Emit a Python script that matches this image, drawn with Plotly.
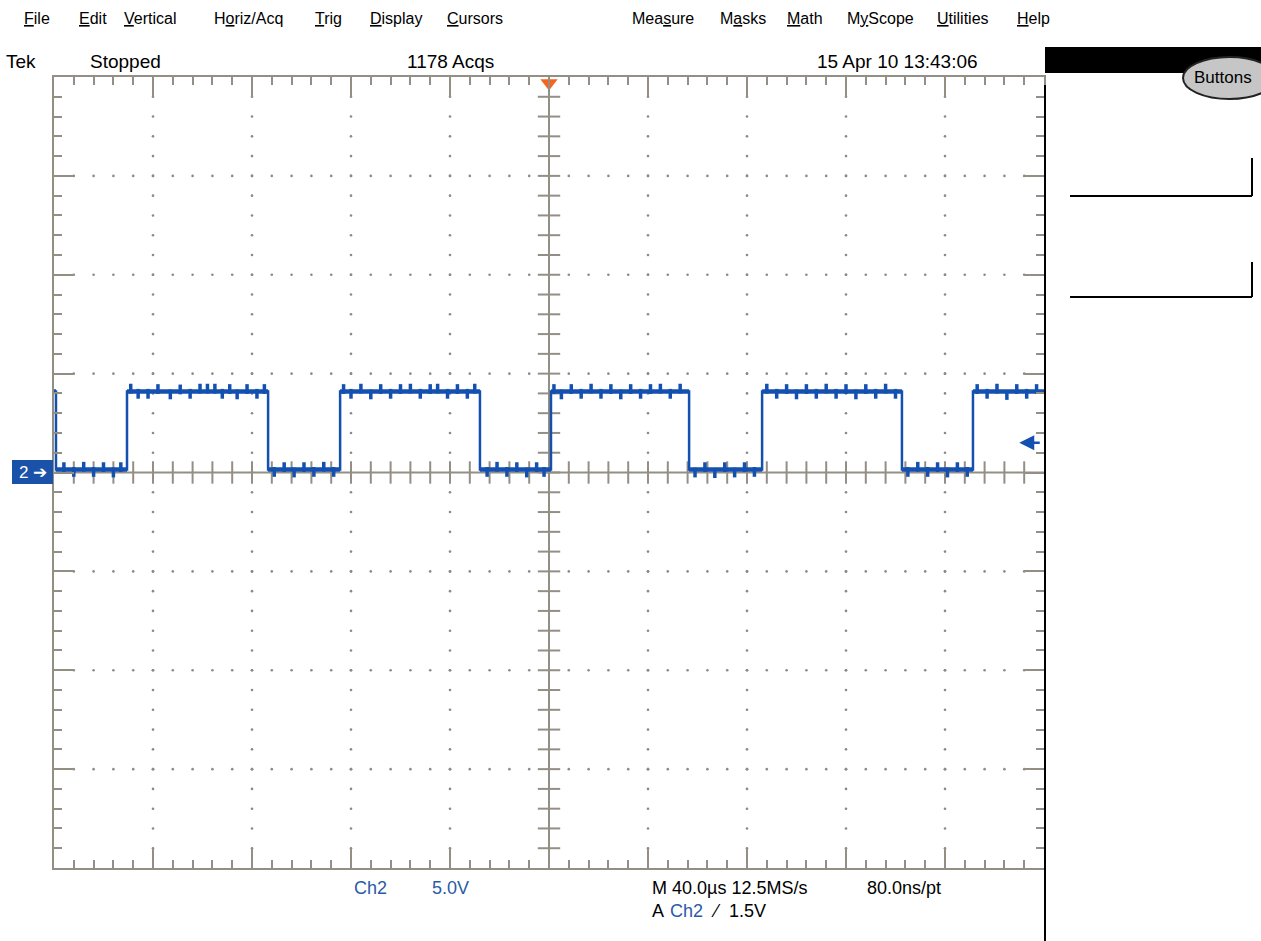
import plotly.graph_objects as go

W, H = 1261, 941

# ---------------- data ----------------
# time axis: 40 us/div, 10 divisions (trigger at 0); vertical: 5 V/div, 8 divisions
edge_times_us = [-199.2, -170.5, -113.5, -84.4, -27.9, 0.8, 56.6, 86.1, 142.6, 171.3]
start_high = True
high_level_v = 4.1
low_level_v = 0.15

glitch_t = [-169, -166, -162, -158, -153, -149, -145, -141, -138, -135, -132, -129, -126, -122, -118, -115,
            -83, -80, -76, -72, -68, -64, -60, -56, -52, -48, -45, -41, -37, -33, -30,
            2, 5, 9, 13, 17, 21, 25, 29, 33, 37, 41, 45, 49, 53,
            88, 92, 96, 100, 104, 108, 112, 116, 120, 124, 128, 132, 136, 140,
            173, 177, 181, 185, 189, 193, 197,
            -196, -192, -188, -184, -180, -176, -173,
            -111, -107, -103, -99, -95, -91, -87,
            -25, -21, -17, -13, -9, -5, -2,
            59, 63, 67, 71, 75, 79, 83,
            145, 149, 153, 157, 161, 165, 169]
glitch_dv = [0.14, -0.12, -0.12, 0.12, -0.15, 0.1, -0.12, 0.14, 0.14, 0.14, -0.12, 0.12, -0.15, 0.12, -0.12, 0.12,
             0.12, -0.12, 0.14, -0.15, 0.12, -0.12, 0.12, 0.14, -0.12, 0.12, 0.14, -0.12, 0.12, -0.12, 0.14,
             0.12, -0.15, 0.12, -0.12, 0.14, -0.12, 0.12, -0.15, 0.12, -0.12, 0.12, 0.14, -0.12, 0.14,
             0.14, -0.12, 0.12, -0.15, 0.12, -0.12, 0.14, -0.12, 0.12, -0.15, 0.12, -0.12, 0.14, -0.12,
             0.12, -0.12, 0.14, -0.18, 0.12, -0.12, 0.12,
             0.12, -0.12, 0.14, -0.12, 0.12, -0.15, 0.12,
             -0.12, 0.12, -0.15, 0.12, -0.12, 0.14, -0.12,
             -0.12, 0.14, -0.12, 0.12, -0.15, 0.12, -0.12,
             -0.15, 0.12, -0.18, 0.12, -0.15, 0.12, -0.12,
             -0.12, 0.14, -0.12, 0.12, -0.15, 0.12, -0.12]

trigger_level_v = 1.5

menu_items = [("<span style='text-decoration:underline'>F</span>ile", 22),
              ("<span style='text-decoration:underline'>E</span>dit", 77),
              ("<span style='text-decoration:underline'>V</span>ertical", 122),
              ("H<span style='text-decoration:underline'>o</span>riz/Acq", 212),
              ("<span style='text-decoration:underline'>T</span>rig", 313),
              ("<span style='text-decoration:underline'>D</span>isplay", 368),
              ("<span style='text-decoration:underline'>C</span>ursors", 445),
              ("Mea<span style='text-decoration:underline'>s</span>ure", 630),
              ("M<span style='text-decoration:underline'>a</span>sks", 718),
              ("<span style='text-decoration:underline'>M</span>ath", 785),
              ("M<span style='text-decoration:underline'>y</span>Scope", 845),
              ("<span style='text-decoration:underline'>U</span>tilities", 935),
              ("<span style='text-decoration:underline'>H</span>elp", 1015)]

status_items = [("Tek", 4), ("Stopped", 88), ("1178 Acqs", 405), ("15 Apr 10 13:43:06", 815)]

# ---------------- helpers ----------------
def px(x):
    return x / W

def py(y):
    return 1 - y / H

X0, X1, Y0, Y1 = 54, 1044, 77, 868
GRID = "#948f85"
BLUE = "#1450b0"
TEXTBLUE = "#2a5aa8"
FONT = "Liberation Sans, Arial, sans-serif"

# waveform steps
xs, ys = [-200], []
level = high_level_v if start_high else low_level_v
ys.append(level)
for e in edge_times_us:
    other = low_level_v if level == high_level_v else high_level_v
    xs += [e, e]
    ys += [level, other]
    level = other
xs.append(200)
ys.append(level)

# plateau segments (horizontal parts only, drawn thicker like the noisy trace)
bounds = [-200] + edge_times_us + [200]
pxs, pys = [], []
lv = high_level_v if start_high else low_level_v
for a, b in zip(bounds[:-1], bounds[1:]):
    pxs += [a, b, None]
    pys += [lv, lv, None]
    lv = low_level_v if lv == high_level_v else high_level_v

def level_at(t):
    lv = high_level_v if start_high else low_level_v
    for e in edge_times_us:
        if t >= e:
            lv = low_level_v if lv == high_level_v else high_level_v
    return lv

gy = [level_at(t) + dv for t, dv in zip(glitch_t, glitch_dv)]

fig = go.Figure()

# grid dots
gx_d, gy_d = [], []
for xv in [-160, -120, -80, -40, 40, 80, 120, 160]:
    for k in range(-19, 20):
        gx_d.append(xv); gy_d.append(k)
for yv in [-15, -10, -5, 5, 10, 15]:
    for k in range(-24, 25):
        gx_d.append(k * 8); gy_d.append(yv)
fig.add_trace(go.Scatter(x=gx_d, y=gy_d, mode="markers",
                         marker=dict(size=2.6, color="#8a8a8a", line=dict(width=0)),
                         hoverinfo="skip"))

# center cross ticks
fig.add_trace(go.Scatter(x=[k * 8 for k in range(-24, 25)], y=[0] * 49, mode="markers",
                         marker=dict(symbol="line-ns", size=16, line=dict(width=2, color=GRID)),
                         hoverinfo="skip"))
fig.add_trace(go.Scatter(x=[0] * 39, y=list(range(-19, 20)), mode="markers",
                         marker=dict(symbol="line-ew", size=16, line=dict(width=2, color=GRID)),
                         hoverinfo="skip"))
fig.add_trace(go.Scatter(x=[-200, 200], y=[0, 0], mode="lines", line=dict(color=GRID, width=2),
                         hoverinfo="skip"))
fig.add_trace(go.Scatter(x=[0, 0], y=[-20, 20], mode="lines", line=dict(color=GRID, width=2),
                         hoverinfo="skip"))

# waveform
fig.add_trace(go.Scatter(x=xs, y=ys, mode="lines", line=dict(color=BLUE, width=2.5),
                         hoverinfo="skip"))
fig.add_trace(go.Scatter(x=pxs, y=pys, mode="lines", line=dict(color=BLUE, width=4.5),
                         connectgaps=False, hoverinfo="skip"))
fig.add_trace(go.Scatter(x=glitch_t, y=gy, mode="markers",
                         marker=dict(symbol="line-ns", size=7, line=dict(width=3.5, color=BLUE)),
                         hoverinfo="skip"))

# trigger position marker
fig.add_trace(go.Scatter(x=[0], y=[19.7], mode="markers", cliponaxis=False,
                         marker=dict(symbol="triangle-down", size=15, color="#f5651e",
                                     line=dict(width=0)),
                         hoverinfo="skip"))

axis_common = dict(showline=True, linecolor=GRID, linewidth=2, mirror="ticks",
                   ticks="inside", ticklen=20, tickwidth=2, tickcolor=GRID,
                   showticklabels=False, showgrid=False, zeroline=False, fixedrange=True)
fig.update_xaxes(range=[-200, 200], domain=[px(X0), px(X1)], tick0=-200, dtick=40,
                 minor=dict(ticks="inside", ticklen=8, dtick=8, tick0=-200, tickwidth=2,
                            tickcolor=GRID, showgrid=False), **axis_common)
fig.update_yaxes(range=[-20, 20], domain=[py(Y1), py(Y0)], tick0=-20, dtick=5,
                 minor=dict(ticks="inside", ticklen=8, dtick=1, tick0=-20, tickwidth=2,
                            tickcolor=GRID, showgrid=False), **axis_common)

shapes = []
# right panel
shapes.append(dict(type="rect", xref="paper", yref="paper", x0=px(1045), x1=px(1262),
                   y0=py(73), y1=py(47), fillcolor="black", line=dict(width=0)))
shapes.append(dict(type="line", xref="paper", yref="paper", x0=px(1045), x1=px(1045),
                   y0=py(85), y1=py(941), line=dict(color="black", width=2)))
shapes.append(dict(type="circle", xref="paper", yref="paper", x0=px(1183), x1=px(1276),
                   y0=py(99), y1=py(57), fillcolor="#c6c6c6", line=dict(color="#222", width=2)))
for yl, ytop in [(196, 158), (297, 262)]:
    shapes.append(dict(type="line", xref="paper", yref="paper", x0=px(1070), x1=px(1252),
                       y0=py(yl), y1=py(yl), line=dict(color="black", width=2)))
    shapes.append(dict(type="line", xref="paper", yref="paper", x0=px(1252), x1=px(1252),
                       y0=py(yl), y1=py(ytop), line=dict(color="black", width=2)))
# channel ground marker box
shapes.append(dict(type="rect", xref="paper", yref="paper", x0=px(12), x1=px(53),
                   y0=py(484), y1=py(460), fillcolor="#1a52aa", line=dict(width=0)))
fig.update_layout(shapes=shapes)

ann = []
MENU_FONT = dict(family=FONT, size=16, color="black")
for txt, x in menu_items:
    ann.append(dict(text=txt, x=px(x), y=py(19), xref="paper", yref="paper", xanchor="left",
                    yanchor="middle", showarrow=False, font=MENU_FONT))
STAT_FONT = dict(family=FONT, size=19, color="black")
for txt, x in status_items:
    ann.append(dict(text=txt, x=px(x), y=py(61), xref="paper", yref="paper", xanchor="left",
                    yanchor="middle", showarrow=False, font=STAT_FONT))
ann.append(dict(text="Buttons", x=px(1223), y=py(78), xref="paper", yref="paper",
                xanchor="center", yanchor="middle", showarrow=False,
                font=dict(family=FONT, size=17, color="black")))
ann.append(dict(text="2 ➔", x=px(33), y=py(472), xref="paper", yref="paper",
                xanchor="center", yanchor="middle", showarrow=False,
                font=dict(family=FONT, size=17, color="white")))
BOT = dict(family=FONT, size=18)
bottom_items = [("Ch2", 352, 888, TEXTBLUE), ("5.0V", 430, 888, TEXTBLUE),
                ("M 40.0µs 12.5MS/s", 650, 888, "black"), ("80.0ns/pt", 865, 888, "black"),
                ("A", 650, 911, "black"), ("Ch2", 668, 911, TEXTBLUE),
                ("⁄", 709, 911, "black"), ("1.5V", 727, 911, "black")]
for txt, x, y, c in bottom_items:
    ann.append(dict(text=txt, x=px(x), y=py(y), xref="paper", yref="paper", xanchor="left",
                    yanchor="middle", showarrow=False, font=dict(color=c, **BOT)))
# trigger level arrow
ann.append(dict(x=190, y=trigger_level_v, xref="x", yref="y", ax=22, ay=0, showarrow=True,
                arrowhead=2, arrowsize=1.2, arrowwidth=2.5, arrowcolor=BLUE, text=""))
fig.update_layout(annotations=ann)

fig.update_layout(width=W, height=H, margin=dict(l=0, r=0, t=0, b=0),
                  paper_bgcolor="white", plot_bgcolor="white", showlegend=False)

fig.write_html("out.html", config={"displayModeBar": False})
